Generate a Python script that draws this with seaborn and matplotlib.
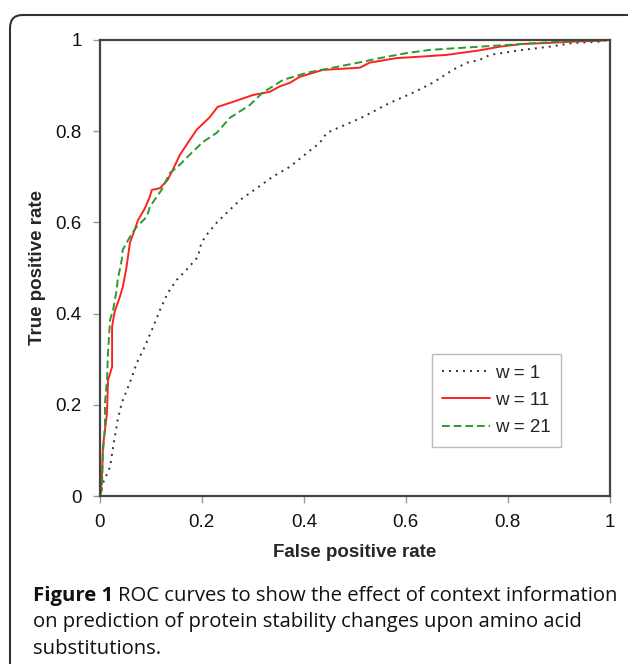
import pandas as pd
import matplotlib
matplotlib.use("Agg")
import matplotlib.pyplot as plt
from matplotlib.patches import FancyBboxPatch
import seaborn as sns

# ROC points
fpr_w1 = [0, 0.006, 0.02, 0.026, 0.035, 0.043, 0.053, 0.063, 0.072, 0.088, 0.102, 0.118,
          0.133, 0.151, 0.17, 0.192, 0.198, 0.206, 0.229, 0.249, 0.275, 0.308, 0.339,
          0.373, 0.406, 0.431, 0.445, 0.471, 0.49, 0.516, 0.569, 0.614, 0.653, 0.692,
          0.72, 0.745, 0.765, 0.829, 0.882, 0.927, 0.98, 1]
tpr_w1 = [0, 0.028, 0.064, 0.107, 0.167, 0.204, 0.232, 0.261, 0.291, 0.327, 0.364, 0.408,
          0.445, 0.474, 0.496, 0.524, 0.55, 0.568, 0.599, 0.621, 0.649, 0.675, 0.70,
          0.722, 0.752, 0.774, 0.796, 0.809, 0.818, 0.831, 0.862, 0.884, 0.906, 0.934,
          0.95, 0.956, 0.967, 0.978, 0.985, 0.993, 0.996, 1]

fpr_w11 = [0, 0.004, 0.006, 0.014, 0.016, 0.024, 0.024, 0.029, 0.039, 0.045, 0.052, 0.059,
           0.075, 0.088, 0.098, 0.102, 0.118, 0.133, 0.143, 0.157, 0.176, 0.19, 0.216,
           0.231, 0.261, 0.30, 0.333, 0.353, 0.373, 0.392, 0.437, 0.51, 0.529, 0.582,
           0.627, 0.68, 0.706, 0.745, 0.784, 0.829, 0.876, 0.927, 0.98, 1]
tpr_w11 = [0, 0.035, 0.107, 0.182, 0.254, 0.283, 0.371, 0.404, 0.436, 0.458, 0.50, 0.555,
           0.605, 0.63, 0.656, 0.671, 0.675, 0.693, 0.715, 0.748, 0.78, 0.803, 0.831,
           0.853, 0.864, 0.879, 0.886, 0.898, 0.906, 0.919, 0.934, 0.939, 0.95, 0.96,
           0.963, 0.967, 0.971, 0.977, 0.985, 0.991, 0.993, 0.996, 0.998, 1]

fpr_w21 = [0, 0.004, 0.006, 0.01, 0.01, 0.014, 0.016, 0.02, 0.026, 0.033, 0.035, 0.043,
           0.045, 0.059, 0.072, 0.092, 0.098, 0.121, 0.137, 0.153, 0.176, 0.202, 0.229,
           0.255, 0.294, 0.319, 0.359, 0.406, 0.457, 0.516, 0.549, 0.602, 0.647, 0.745,
           0.829, 0.9, 1]
tpr_w21 = [0, 0.013, 0.094, 0.151, 0.204, 0.254, 0.314, 0.386, 0.408, 0.452, 0.474, 0.518,
           0.54, 0.568, 0.59, 0.612, 0.634, 0.671, 0.708, 0.722, 0.748, 0.776, 0.796,
           0.829, 0.857, 0.884, 0.912, 0.928, 0.939, 0.952, 0.96, 0.971, 0.978, 0.985,
           0.991, 0.996, 1]

tick_vals = [0, 0.2, 0.4, 0.6, 0.8, 1]
tick_labels = ["0", "0.2", "0.4", "0.6", "0.8", "1"]

sns.set_style("white")
plt.rcParams['font.family'] = ['Liberation Sans', 'DejaVu Sans']

fig = plt.figure(figsize=(6.28, 6.64), dpi=100)
ax = fig.add_axes([0.159, 0.253, 0.812, 0.687])

curves = [
    (fpr_w1, tpr_w1, "w = 1", "#333333", (0, (1, 2.6))),
    (fpr_w11, tpr_w11, "w = 11", "#ff2020", "-"),
    (fpr_w21, tpr_w21, "w = 21", "#2e9a2e", (0, (4, 2))),
]
for fx, ty, name, col, ls in curves:
    df = pd.DataFrame({"fpr": fx, "tpr": ty})
    sns.lineplot(data=df, x="fpr", y="tpr", ax=ax, sort=False, estimator=None,
                 color=col, linestyle=ls, linewidth=1.4, label=name)

ax.set_xlim(0, 1)
ax.set_ylim(0, 1)
ax.set_xticks(tick_vals)
ax.set_xticklabels(tick_labels)
ax.set_yticks(tick_vals)
ax.set_yticklabels(tick_labels)
ax.tick_params(axis="both", direction="out", length=5, width=1, color="#999999",
               labelsize=13.5, pad=8, bottom=True, left=True, labelcolor="#111111")
for s in ax.spines.values():
    s.set_color("#444444")
    s.set_linewidth(1.6)

ax.set_xlabel("False positive rate", fontsize=13.5, fontweight="bold", labelpad=9)
ax.set_ylabel("True positive rate", fontsize=13.5, fontweight="bold", labelpad=7)

leg = ax.legend(loc="upper left", bbox_to_anchor=(0.651, 0.311), fontsize=13.5,
                frameon=True, fancybox=False, edgecolor="#bbbbbb", framealpha=1,
                handlelength=2.55, handletextpad=0.25, labelspacing=0.55,
                borderpad=0.55, borderaxespad=0)
leg.get_frame().set_linewidth(1.0)

# outer rounded frame around the figure panel
box = FancyBboxPatch((10 / 628, -0.2), 1.2, (664 - 15) / 664 + 0.2,
                     boxstyle="round,pad=0,rounding_size=0.02",
                     transform=fig.transFigure, fill=False,
                     edgecolor="#333333", linewidth=1.5)
fig.patches.append(box)

# caption
cap_font = ['Open Sans', 'DejaVu Sans']
cap_size = 14.6
x0 = 33 / 628
y1 = 1 - 601 / 664
t = fig.text(x0, y1, "Figure 1", fontsize=cap_size, fontweight="bold", family=cap_font,
             va="baseline", color="#111111")
fig.canvas.draw()
bb = t.get_window_extent(renderer=fig.canvas.get_renderer())
x1 = bb.x1 / fig.bbox.width + 5 / 628
fig.text(x1, y1, "ROC curves to show the effect of context information",
         fontsize=cap_size, family=cap_font, va="baseline", color="#111111")
fig.text(x0, 1 - 627 / 664, "on prediction of protein stability changes upon amino acid",
         fontsize=cap_size, family=cap_font, va="baseline", color="#111111")
fig.text(x0, 1 - 654 / 664, "substitutions.",
         fontsize=cap_size, family=cap_font, va="baseline", color="#111111")

fig.savefig("out.png", dpi=100)
